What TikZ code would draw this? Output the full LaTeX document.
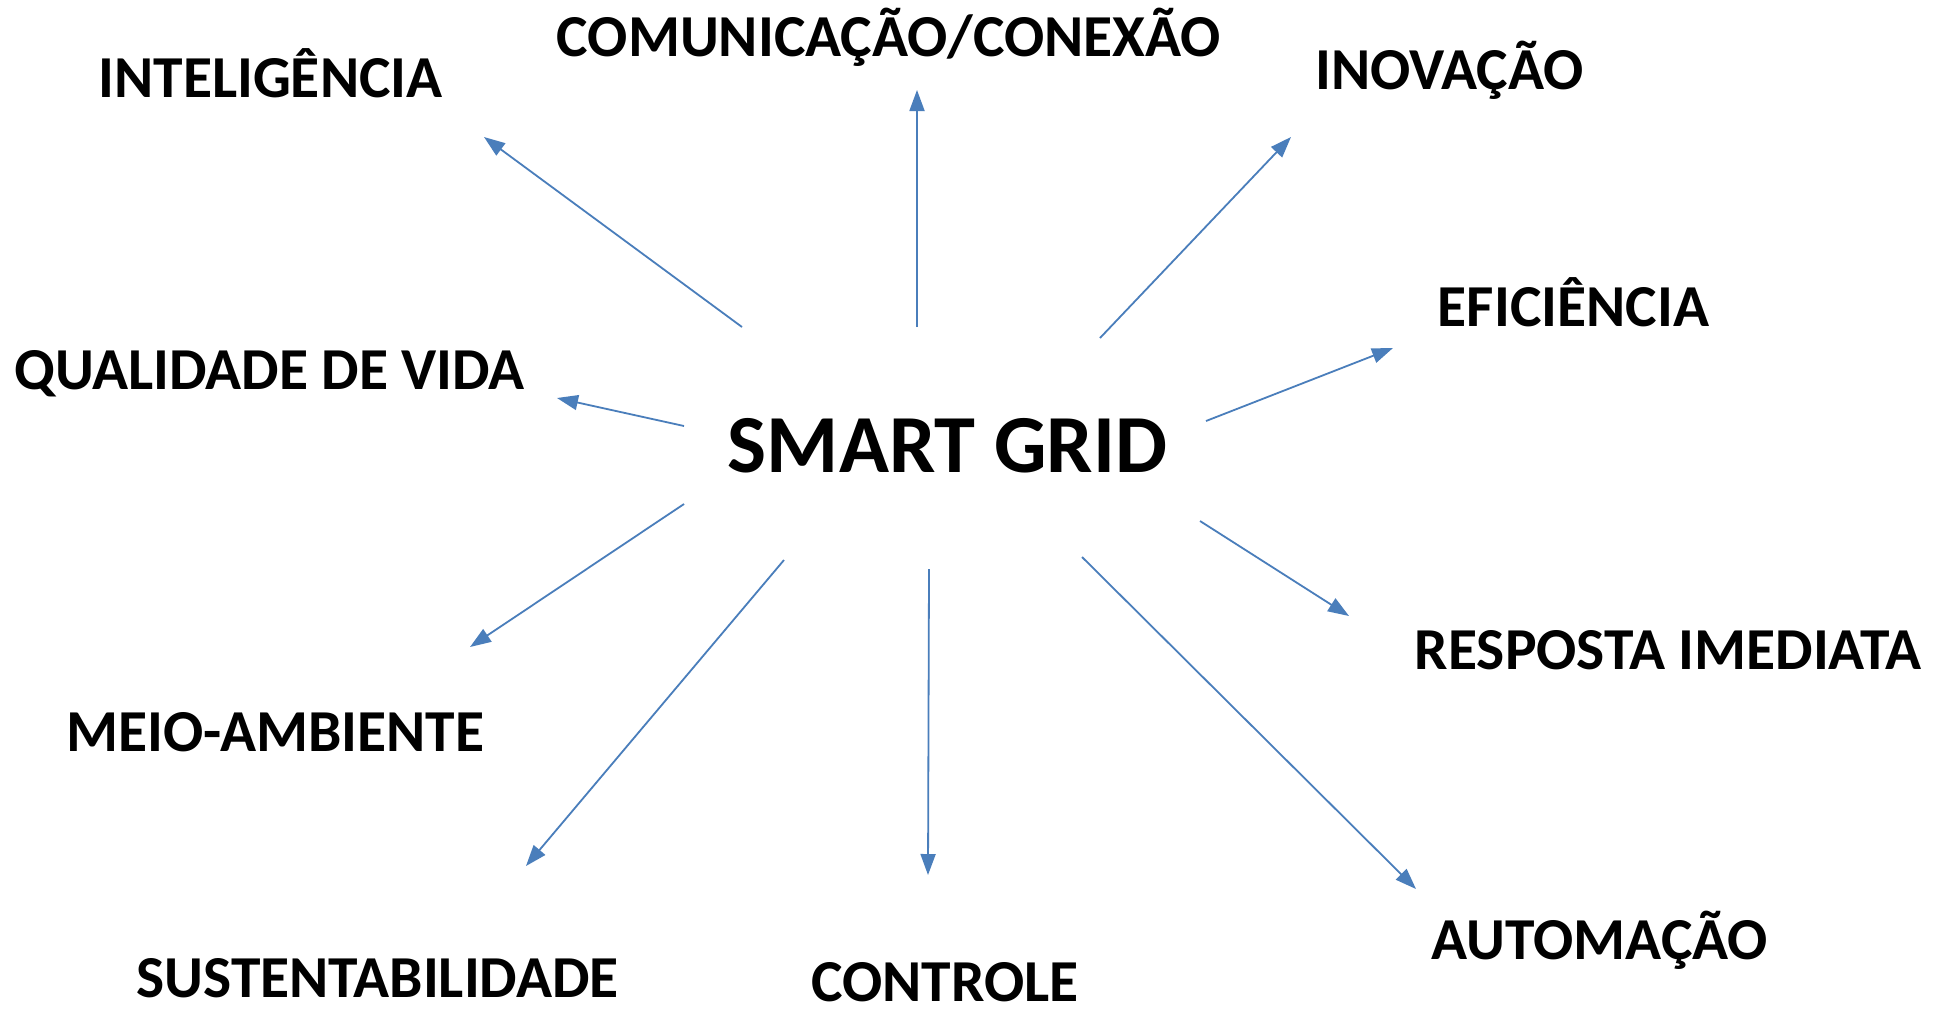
\documentclass[tikz,border=0pt]{standalone}
\usepackage{fontspec}
\setmainfont{Carlito}
\usetikzlibrary{arrows.meta}
\definecolor{arrowblue}{HTML}{4A7EBB}
\begin{document}
\begin{tikzpicture}[x=1pt,y=-1pt,
  lbl/.style={anchor=base,inner sep=0pt,font=\fontsize{59.5}{62}\selectfont\bfseries},
  title/.style={anchor=base,inner sep=0pt,font=\fontsize{82.5}{86}\selectfont\bfseries},
  conn/.style={draw=arrowblue,line width=1.8pt,-{Triangle[length=21pt,width=15pt]},fill=arrowblue}
]
\fill[white] (0,0) rectangle (1951,1010);
\useasboundingbox (0,0) rectangle (1951,1010);

\node[title] (sg) at (947.5,472) {SMART GRID};
\node[lbl] (int) at (270.5,97) {INTELIGÊNCIA};
\node[lbl] (com) at (889,56) {COMUNICAÇÃO/CONEXÃO};
\node[lbl] (ino) at (1449.5,89) {INOVAÇÃO};
\node[lbl] (efi) at (1573.5,326) {EFICIÊNCIA};
\node[lbl] (qua) at (269.5,389) {QUALIDADE DE VIDA};
\node[lbl] (res) at (1668,669) {RESPOSTA IMEDIATA};
\node[lbl] (mei) at (275.5,751) {MEIO-AMBIENTE};
\node[lbl] (sus) at (377.5,997) {SUSTENTABILIDADE};
\node[lbl] (con) at (945,1001) {CONTROLE};
\node[lbl] (aut) at (1600,959) {AUTOMAÇÃO};

\coordinate (s1) at (742,327);  \coordinate (e1) at (484,137);
\coordinate (s2) at (917,327);  \coordinate (e2) at (917,90);
\coordinate (s3) at (1100,338); \coordinate (e3) at (1291,137);
\coordinate (s4) at (1206,421); \coordinate (e4) at (1393,348);
\coordinate (s5) at (684,426);  \coordinate (e5) at (557,398);
\coordinate (s6) at (684,504);  \coordinate (e6) at (470,647);
\coordinate (s7) at (784,560);  \coordinate (e7) at (526,866);
\coordinate (s8) at (929,569);  \coordinate (e8) at (928,875);
\coordinate (s9) at (1082,557); \coordinate (e9) at (1416,889);
\coordinate (s10) at (1200,521); \coordinate (e10) at (1349,616);

\foreach \i in {1,...,10} {
  \draw[conn] (s\i) -- (e\i);
}
\end{tikzpicture}
\end{document}
